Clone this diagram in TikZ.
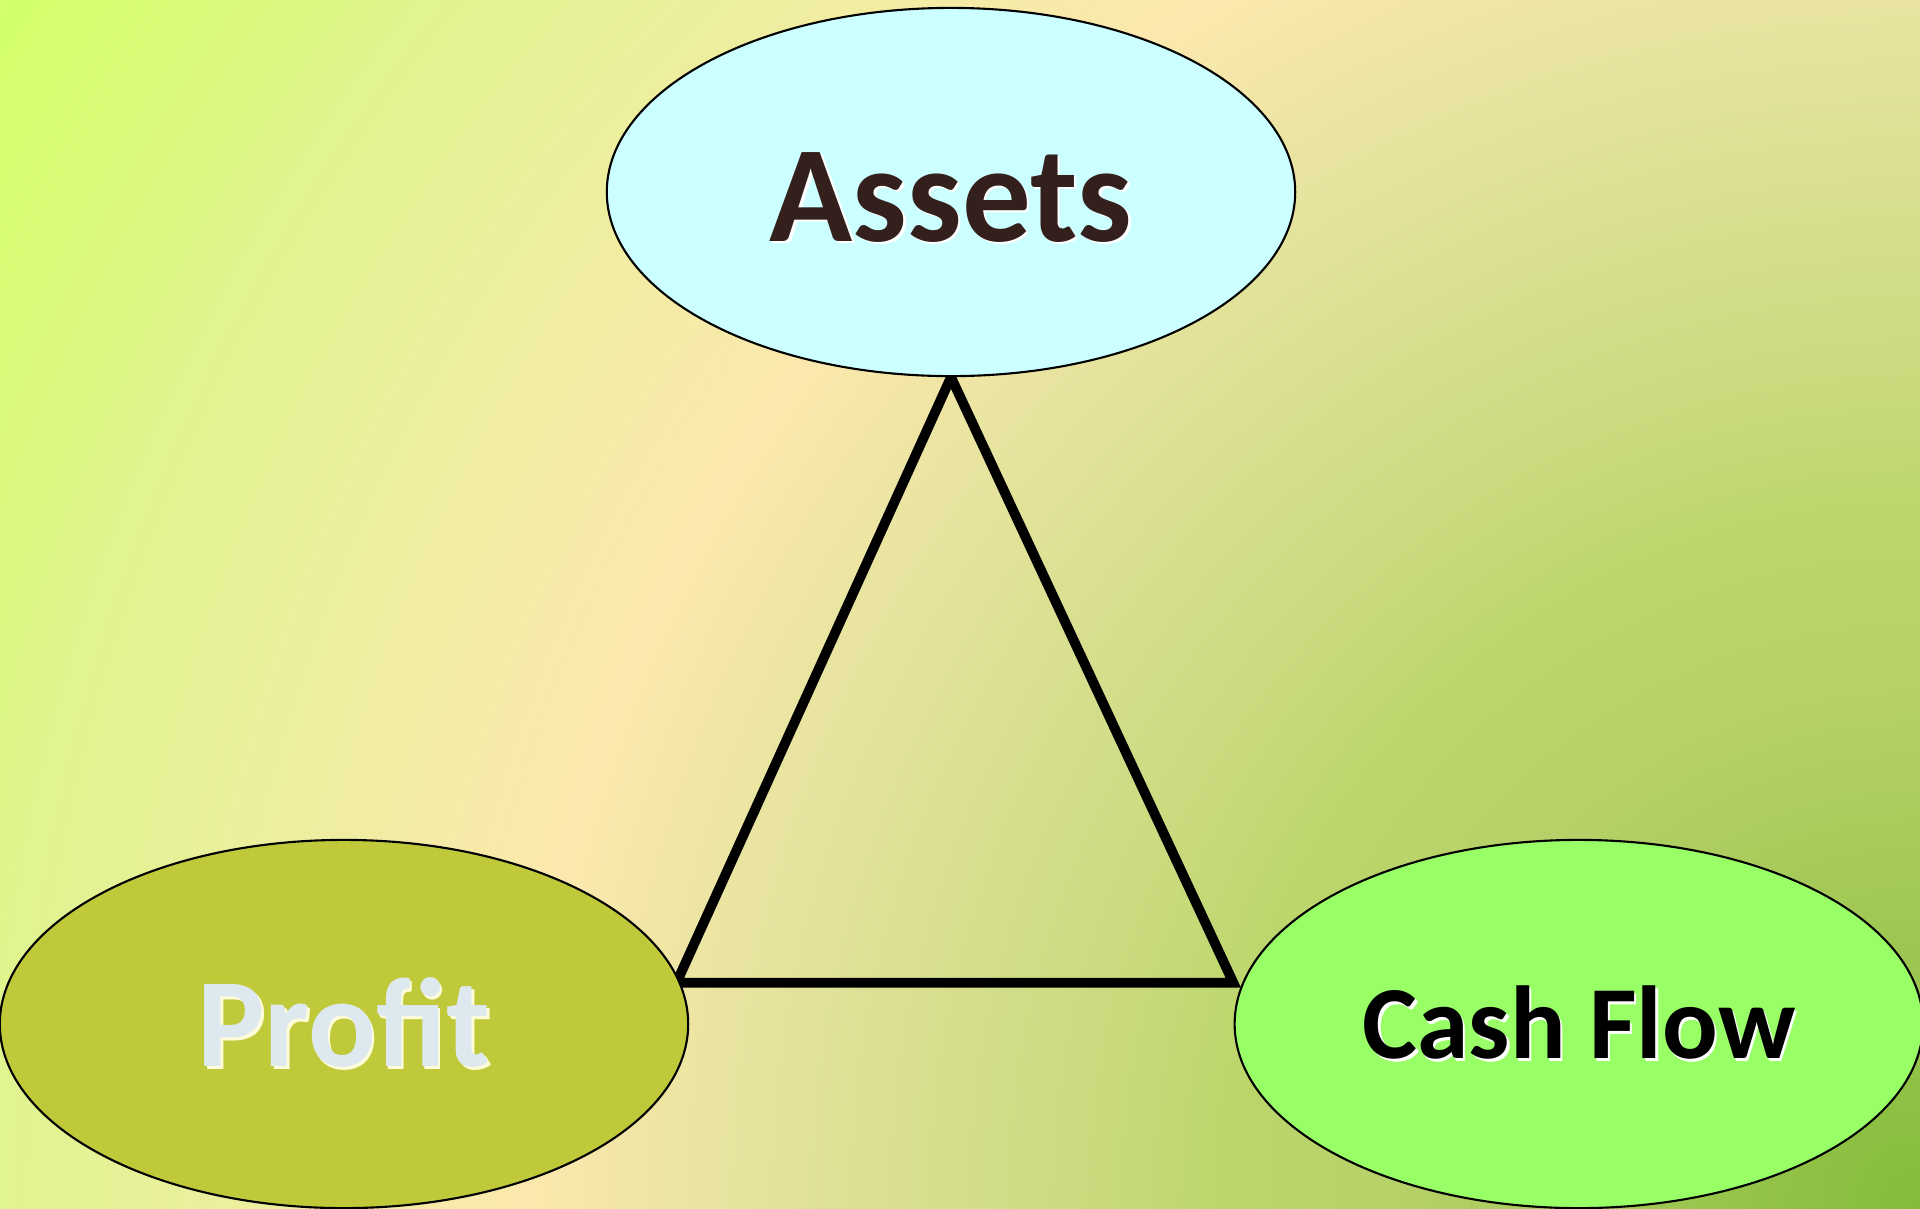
\documentclass[tikz,border=0pt]{standalone}
\usepackage{fontspec}
\setmainfont{Carlito}
\usetikzlibrary{shapes.geometric,positioning,calc}
\definecolor{assetfill}{HTML}{CCFFFF}
\definecolor{assetink}{HTML}{33201C}
\definecolor{profitfill}{HTML}{BFC93A}
\definecolor{profitink}{HTML}{DDE9EF}
\definecolor{cashfill}{HTML}{99FF66}
% radial background, centred at the lower right corner
\pgfdeclareradialshading{bgshade}{\pgfpoint{0bp}{0bp}}{%
  color(0bp)=(rgb,255:red,132;green,188;blue,58);
  color(5.4bp)=(rgb,255:red,180;green,208;blue,102);
  color(7.6bp)=(rgb,255:red,188;green,214;blue,108);
  color(8.8bp)=(rgb,255:red,200;green,218;blue,124);
  color(13.1bp)=(rgb,255:red,232;green,228;blue,160);
  color(15.2bp)=(rgb,255:red,252;green,232;blue,174);
  color(20.9bp)=(rgb,255:red,224;green,244;blue,144);
  color(21.9bp)=(rgb,255:red,220;green,248;blue,128);
  color(24.7bp)=(rgb,255:red,210;green,255;blue,106);
  color(50bp)=(rgb,255:red,210;green,255;blue,106)}
\pgfdeclarelayer{shade}
\pgfdeclarelayer{lines}
\pgfsetlayers{shade,lines,main}
\def\EllWidth{6.88cm}
\def\EllHeight{3.68cm}
\def\EllGap{5.44cm}
% text with a soft light copy behind it
\newcommand{\softglow}[2]{\makebox[0pt][l]{\color{#1}\raisebox{-0.025cm}{\hspace{0.025cm}#2}}#2}
\tikzset{
  ell/.style={ellipse, draw=black, line width=0.6pt, minimum width=\EllWidth,
    minimum height=\EllHeight, inner sep=0pt},
  bigtext/.style={font=\bfseries\fontsize{39}{41}\selectfont},
  midtext/.style={font=\bfseries\fontsize{29.5}{31}\selectfont}
}
\begin{document}
\begin{tikzpicture}[x=0.01cm,y=-0.01cm]
  \useasboundingbox (0,0) rectangle (1920,1208);
  \begin{pgfonlayer}{shade}
    \clip (0,0) rectangle (1920,1208);
    \fill[shading=bgshade] (-380,-1092) rectangle (4220,3508);
  \end{pgfonlayer}
  \node[ell, fill=assetfill, text=assetink, bigtext] (assets) at (951,192)
    {\raisebox{-0.05cm}[\height][0pt]{\softglow{white}{Assets}}};
  \node[ell, fill=profitfill, text=profitink, font=\bfseries\fontsize{36}{38}\selectfont] (profit) at (344,1024)
    {\softglow{white!85!yellow}{Profit}};
  \node[ell, right=\EllGap of profit, fill=cashfill, text=black, midtext] (cashflow)
    {\softglow{white}{Cash Flow}};
  \begin{pgfonlayer}{lines}
    \draw[line width=2.8pt] (assets.south) -- ($(profit.7)+(-4,0)$) -- ($(cashflow.173)+(-9,0)$) -- cycle;
  \end{pgfonlayer}
\end{tikzpicture}
\end{document}
